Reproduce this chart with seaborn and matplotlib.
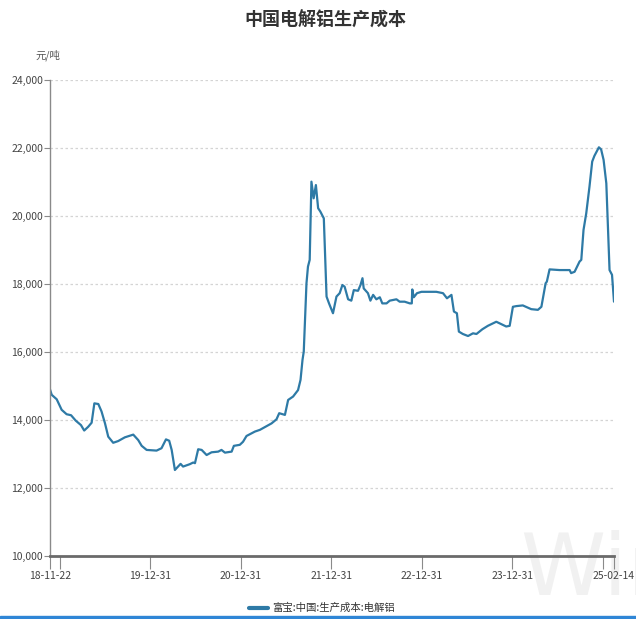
import matplotlib
matplotlib.use("Agg")
import matplotlib.pyplot as plt
import matplotlib.transforms as mtransforms
import seaborn as sns
import pandas as pd
import numpy as np
from matplotlib.lines import Line2D

# ---------------- data ----------------
start_date = "2018-11-22"
day_offsets = [0, 7, 27, 47, 67, 85, 104, 125, 138, 154, 168, 179, 195, 208, 222, 235, 255, 275,
               302, 336, 356, 370, 390, 430, 450, 468, 481, 491, 504, 517, 527, 537, 564, 578,
               585, 598, 612, 632, 652, 679, 692, 706, 733, 742, 766, 779, 793, 827, 847, 867,
               894, 914, 925, 948, 961, 981, 1001, 1011, 1019, 1024, 1035, 1041, 1048, 1055,
               1064, 1073, 1082, 1091, 1105, 1116, 1126, 1142, 1156, 1169, 1180, 1189, 1203,
               1216, 1226, 1243, 1253, 1261, 1266, 1283, 1293, 1304, 1317, 1331, 1341, 1358,
               1371, 1398, 1411, 1431, 1452, 1460, 1462, 1468, 1481, 1499, 1545, 1559, 1586,
               1602, 1620, 1630, 1642, 1650, 1666, 1687, 1707, 1721, 1745, 1767, 1801, 1821,
               1841, 1855, 1868, 1882, 1908, 1942, 1969, 1983, 2000, 2005, 2016, 2056, 2097,
               2103, 2117, 2137, 2144, 2153, 2164, 2177, 2188, 2197, 2215, 2224, 2234, 2245,
               2258, 2264, 2268, 2276]
cost_values = [14900, 14740, 14610, 14300, 14170, 14140, 13980, 13850, 13690, 13800, 13920, 14490,
               14470, 14250, 13900, 13510, 13330, 13380, 13490, 13570, 13410, 13240, 13120, 13100,
               13170, 13430, 13390, 13120, 12530, 12630, 12710, 12630, 12700, 12750, 12730, 13140,
               13120, 12970, 13050, 13070, 13120, 13040, 13070, 13240, 13270, 13360, 13530, 13660,
               13710, 13790, 13900, 14020, 14200, 14150, 14590, 14690, 14880, 15180, 15770, 16010,
               18020, 18510, 18710, 21010, 20520, 20910, 20230, 20130, 19930, 17630, 17430, 17140,
               17630, 17730, 17970, 17920, 17550, 17510, 17820, 17800, 17970, 18170, 17870, 17730,
               17510, 17680, 17550, 17610, 17430, 17430, 17510, 17550, 17480, 17480, 17430, 17430,
               17840, 17610, 17730, 17770, 17770, 17770, 17730, 17580, 17680, 17190, 17140, 16600,
               16530, 16470, 16550, 16530, 16670, 16770, 16890, 16820, 16750, 16770, 17330, 17350,
               17370, 17260, 17240, 17330, 18020, 18070, 18430, 18410, 18410, 18320, 18360, 18660,
               18710, 19590, 20080, 20860, 21600, 21770, 22020, 21960, 21650, 20960, 18410, 18330,
               18270, 17480]
series_name = "富宝:中国:生产成本:电解铝"
title_text = "中国电解铝生产成本"
unit_text = "元/吨"
tick_dates = ["2018-11-22", "2018-12-31", "2019-12-31", "2020-12-31", "2021-12-31",
              "2022-12-31", "2023-12-31", "2024-12-31", "2025-02-14"]
tick_labels = ["18-11-22", "", "19-12-31", "20-12-31", "21-12-31", "22-12-31", "23-12-31", "", "25-02-14"]
y_ticks = [10000, 12000, 14000, 16000, 18000, 20000, 22000, 24000]

# ---------------- plot ----------------
sns.set_theme(style="white")
plt.rcParams["font.family"] = ["Noto Sans CJK SC", "DejaVu Sans"]

dates = pd.to_datetime(start_date) + pd.to_timedelta(day_offsets, unit="D")
df = pd.DataFrame({"date": dates, "value": cost_values, "series": series_name})

fig = plt.figure(figsize=(6.36, 6.19), dpi=100)
ax = fig.add_axes([50 / 636, 1 - 556 / 619, (614 - 50) / 636, (556 - 80) / 619])
ax.patch.set_alpha(0)

# watermark (behind everything)
fig.text(520 / 636, 1 - 612 / 619, "Wind", ha="left", va="bottom",
         fontsize=62, color="#f1f1f1", zorder=-5, family="DejaVu Sans")

line_color = "#2e7aa6"
sns.lineplot(data=df, x="date", y="value", hue="series", palette=[line_color],
             linewidth=1.6, ax=ax, legend=False)

ax.set_xlim(pd.to_datetime(tick_dates[0]), pd.to_datetime(tick_dates[-1]))
ax.set_ylim(y_ticks[0], y_ticks[-1])
ax.set_xticks(pd.to_datetime(tick_dates))
ax.set_xticklabels(tick_labels)
ax.set_yticks(y_ticks)
ax.set_yticklabels([f"{v:,}" for v in y_ticks])
ax.set_xlabel("")
ax.set_ylabel("")

for v in y_ticks[1:]:
    ax.axhline(v, color="#d4d4d4", linestyle=(0, (2, 2)), linewidth=0.9, zorder=0)

for s in ["top", "right"]:
    ax.spines[s].set_visible(False)
ax.spines["left"].set_color("#8a8a8a")
ax.spines["left"].set_linewidth(1.0)
ax.spines["bottom"].set_color("#6a6a6a")
ax.spines["bottom"].set_linewidth(2.0)

ax.tick_params(axis="y", direction="out", length=4, width=0.8, color="#8a8a8a",
               labelsize=7.5, labelcolor="#444444", pad=1, left=True)
ax.tick_params(axis="x", direction="out", length=9, width=0.8, color="#8a8a8a",
               labelsize=7.5, labelcolor="#444444", pad=2, bottom=True)

# keep the last date label inside the figure
last_lbl = ax.get_xticklabels()[-1]
last_lbl.set_horizontalalignment("right")
last_lbl.set_transform(last_lbl.get_transform() +
                       mtransforms.ScaledTranslation(21 / 100, 0, fig.dpi_scale_trans))

fig.text(325 / 636, 1 - 20 / 619, title_text, ha="center", va="center",
         fontsize=13, fontweight="bold", color="#333333")
fig.text(48 / 636, 1 - 55 / 619, unit_text, ha="center", va="center",
         fontsize=7.5, color="#555555")

# legend
handle = Line2D([0], [0], color=line_color, linewidth=3)
fig.legend([handle], [series_name], loc="center", bbox_to_anchor=(322 / 636, 1 - 608 / 619),
           frameon=False, fontsize=7.5, handlelength=1.8, handletextpad=0.4,
           labelcolor="#333333")

# bottom blue bar
fig.patches.append(plt.Rectangle((0, 0), 1, 3.5 / 619, transform=fig.transFigure,
                                 color="#2f86d6", zorder=5))

fig.savefig("out.png", dpi=100)
